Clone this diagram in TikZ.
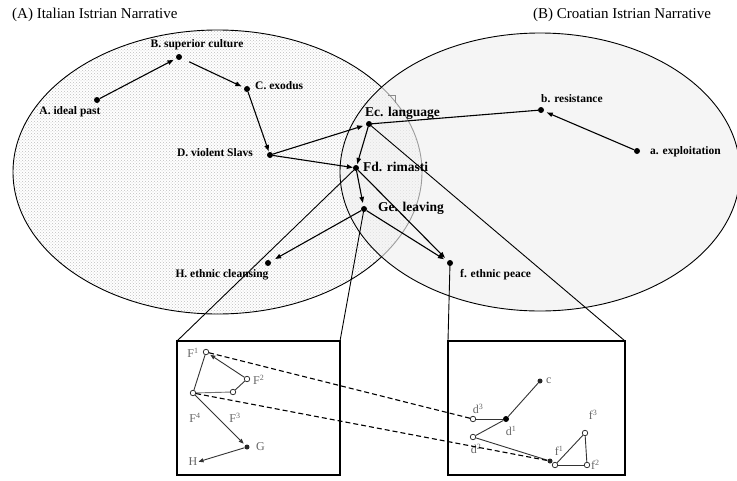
\documentclass[tikz,border=0pt]{standalone}
\usepackage{fontspec}
\setmainfont{Liberation Serif}
\usetikzlibrary{arrows.meta,patterns}

\begin{document}
\begin{tikzpicture}[x=1pt,y=-1pt,
  dot/.style={circle,fill=black,inner sep=0pt,minimum size=6pt},
  sdot/.style={circle,fill=black!85,inner sep=0pt,minimum size=5pt},
  odot/.style={circle,draw=black!80,fill=white,line width=0.8pt,inner sep=0pt,minimum size=5.5pt},
  lbl/.style={font=\fontsize{11.5}{12}\selectfont\bfseries,inner sep=0pt},
  biglbl/.style={font=\fontsize{13.5}{14}\selectfont\bfseries,inner sep=0pt},
  heading/.style={font=\fontsize{15}{16}\selectfont,inner sep=0pt,anchor=base west},
  conn/.style={line width=1.1pt},
  arr/.style={conn,-{Triangle[length=6pt,width=4.5pt]},shorten >=3pt},
  zoomline/.style={line width=0.9pt},
  framebox/.style={draw,line width=2.6pt,outer sep=0pt,inner sep=0pt},
  sub/.style={font=\fontsize{12}{13}\selectfont,text=black!60,inner sep=0pt},
  subconn/.style={line width=0.9pt,draw=black!80},
  subarr/.style={subconn,-{Triangle[length=5pt,width=4pt]},shorten >=2pt},
  dashconn/.style={line width=1.1pt,dash pattern=on 5pt off 3pt},
]
\useasboundingbox (0,0) rectangle (737,480);
\fill[white] (0,0) rectangle (737,480);

% Italian narrative: dotted region
\fill[white] (217.5,172) ellipse [x radius=204.5pt, y radius=142pt];
\fill[pattern=crosshatch dots, pattern color=black!25] (217.5,172) ellipse [x radius=204.5pt, y radius=142pt];
\draw[line width=0.9pt] (217.5,172) ellipse [x radius=204.5pt, y radius=142pt];

% Croatian narrative: translucent grey region on top
\fill[black!6, opacity=0.65] (540,172) ellipse [x radius=200pt, y radius=139pt];
\draw[line width=0.9pt] (540,172) ellipse [x radius=200pt, y radius=139pt];
\draw[black!45, line width=0.6pt] (388,95) -- (395,95) -- (395,103);

% headings
\node[heading] (tA) at (12,18.5) {(A) Italian Istrian Narrative};
\node[heading] (tB) at (533,18.5) {(B) Croatian Istrian Narrative};

% narrative points
\node[dot] (A) at (97,100) {};
\node[dot] (B) at (179,57) {};
\node[dot] (C) at (247,89) {};
\node[dot] (D) at (270,155) {};
\node[dot] (E) at (369,124) {};
\node[dot] (F) at (356,168) {};
\node[dot] (G) at (364,209) {};
\node[dot] (H) at (268,263) {};
\node[dot] (f) at (450,263) {};
\node[dot] (a) at (637,151) {};
\node[dot] (b) at (541,110) {};

\node[lbl] (lA) at (70,112) {A. ideal past};
\node[lbl] (lB) at (197,45) {B. superior culture};
\node[lbl,anchor=west] (lC) at (255,86) {C. exodus};
\node[lbl,anchor=east] (lD) at (253,153) {D. violent Slavs};
\node[biglbl,anchor=west] (lE) at (365,113) {Ec. language};
\node[biglbl,anchor=west] (lF) at (363,167) {Fd. rimasti};
\node[biglbl,anchor=west] (lG) at (378,208) {Ge. leaving};
\node[lbl] (lH) at (222,275) {H. ethnic cleansing};
\node[lbl,anchor=west] (lf) at (460,275) {f. ethnic peace};
\node[lbl,anchor=west] (la) at (650,152) {a. exploitation};
\node[lbl,anchor=west] (lb) at (541,99) {b. resistance};

% narrative links
\draw[arr] (A) -- (B);
\draw[arr,shorten <=8pt] (B) -- (C);
\draw[arr,shorten >=1pt] (C) -- (D);
\draw[arr] (D) -- (E);
\draw[arr,shorten >=0pt] (D) -- (F);
\draw[arr] (a) -- (b);
\draw[conn] (b) -- (E);
\draw[arr,shorten >=1pt] (E) -- (F);
\draw[arr] (F) -- (G);
\draw[arr,shorten >=5pt] (G) -- (H);
\draw[arr,shorten >=4pt] (F) -- (f);
\draw[arr,shorten >=4pt] (G) -- (f);

% close-up frames
\node[framebox,minimum width=163pt,minimum height=134pt] (lbox) at (258.5,408) {};
\node[framebox,minimum width=177pt,minimum height=134pt] (rbox) at (536.5,408) {};

\draw[zoomline] (F.center) -- (lbox.north west);
\draw[zoomline] (G.center) -- (lbox.north east);
\draw[zoomline] (f.center) -- (rbox.north west);
\draw[zoomline] (E.center) -- (rbox.north east);

% left close-up
\node[odot] (F1) at (206,352) {};
\node[odot] (F2) at (247,379) {};
\node[odot] (F3) at (233,392) {};
\node[odot] (F4) at (193,393) {};
\node[sdot] (Gs) at (247,447) {};
\node[sub] (Hs) at (193,462) {H};
\node[sub] (lF1) at (193,353) {F\textsuperscript{1}};
\node[sub,anchor=west] (lF2) at (253,380) {F\textsuperscript{2}};
\node[sub] (lF3) at (235,418) {F\textsuperscript{3}};
\node[sub] (lF4) at (195,418) {F\textsuperscript{4}};
\node[sub,anchor=west] (lGs) at (256,447) {G};

\draw[subarr] (F2) -- (F1);
\draw[subconn] (F1) -- (F4);
\draw[subconn,draw=black!55] (F4) -- (F3);
\draw[subconn] (F3) -- (F2);
\draw[subarr] (F4) -- (Gs);
\draw[subarr,shorten >=1pt] (Gs) -- (Hs.east);

% right close-up
\node[sdot] (cs) at (540,381) {};
\node[dot] (d1) at (506,419) {};
\node[odot] (d3) at (473,419) {};
\node[odot] (d2) at (473,437) {};
\node[odot] (f1) at (555,465) {};
\node[odot] (f2) at (587,465) {};
\node[odot] (f3) at (585,433) {};
\node[sdot] (fe) at (550,461) {};
\node[sub,anchor=west] (lcs) at (546,381) {c};
\node[sub] (ld1) at (511,431) {d\textsuperscript{1}};
\node[sub] (ld3) at (478,409) {d\textsuperscript{3}};
\node[sub] (ld2) at (476,449) {d\textsuperscript{2}};
\node[sub] (lf1) at (559,451) {f\textsuperscript{1}};
\node[sub,anchor=west] (lf2) at (591,465) {f\textsuperscript{2}};
\node[sub] (lf3) at (593,415) {f\textsuperscript{3}};

\draw[subconn] (cs) -- (d1);
\draw[subconn] (d3) -- (d1);
\draw[subconn] (d2) -- (d1);
\draw[subconn] (d2) -- (fe);
\draw[subconn] (f1) -- (f2);
\draw[subconn] (f2) -- (f3);
\draw[subconn] (f1) -- (f3);

% correspondences between the close-ups
\draw[dashconn] (F1) -- (d3);
\draw[dashconn] (F4) -- (fe);
\end{tikzpicture}
\end{document}
